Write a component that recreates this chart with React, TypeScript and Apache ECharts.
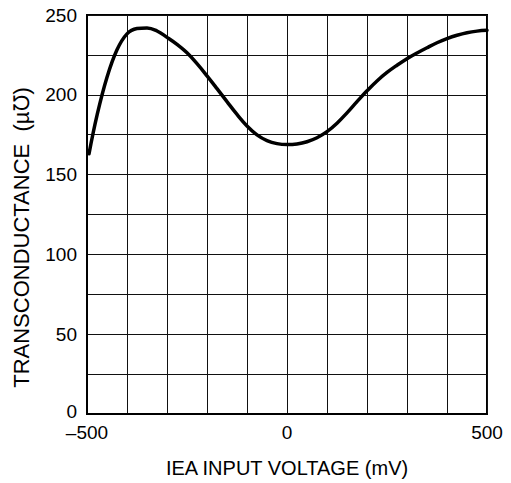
import React, { useEffect, useRef } from "react";
import * as echarts from "echarts";

const voltage = [-495, -475, -450, -425, -400, -375, -350, -325, -300, -275, -250, -225, -200, -175, -150, -125, -100, -75, -50, -25, 0, 25, 50, 75, 100, 125, 150, 175, 200, 225, 250, 275, 300, 325, 350, 375, 400, 425, 450, 475, 500];
const transconductance = [163, 187.1, 211, 228.2, 238.2, 241.5, 241.9, 240.0, 236.0, 231.6, 226.3, 219.5, 211.9, 203.9, 195.7, 187.7, 180.5, 174.9, 171.3, 169.4, 168.8, 169.2, 170.6, 173.1, 176.9, 182.2, 188.7, 195.7, 202.5, 208.7, 214.0, 218.5, 222.6, 226.2, 229.5, 232.6, 235.2, 237.3, 238.9, 239.9, 240.4];
const xTickLabels: Record<number, string> = { [-500]: "\u2013500", 0: "0", 500: "500" };
const yTickLabels = [0, 50, 100, 150, 200, 250];

export default function App() {
  const ref = useRef<HTMLDivElement>(null);
  useEffect(() => {
    if (!ref.current) return;
    const chart = echarts.init(ref.current, undefined, { renderer: "svg" });
    const font = "Liberation Sans, Arial, Helvetica, sans-serif";
    chart.setOption({
      animation: false,
      backgroundColor: "#fff",
      grid: {
        left: 87,
        right: 24,
        top: 15,
        bottom: 68,
        show: true,
        borderColor: "#000",
        borderWidth: 2,
        backgroundColor: "transparent",
      },
      xAxis: {
        type: "value",
        min: -500,
        max: 500,
        interval: 100,
        name: "IEA INPUT VOLTAGE (mV)",
        nameLocation: "middle",
        nameGap: 44,
        nameTextStyle: { color: "#000", fontSize: 20, fontFamily: font },
        axisLine: { show: true, onZero: false, lineStyle: { color: "#000", width: 2 } },
        axisTick: { show: false },
        splitLine: { show: true, lineStyle: { color: "#111", width: 1 } },
        axisLabel: {
          color: "#000",
          fontSize: 19,
          lineHeight: 15,
          fontFamily: font,
          margin: 11,
          formatter: (v: number) => (xTickLabels[v] !== undefined ? xTickLabels[v] : ""),
        },
      },
      yAxis: {
        type: "value",
        min: 0,
        max: 250,
        interval: 25,
        name: "TRANSCONDUCTANCE  (\u00b5\u2127)",
        nameLocation: "middle",
        nameGap: 55,
        nameRotate: 90,
        nameTextStyle: { color: "#000", fontSize: 22, fontFamily: font, padding: [0, 46, 0, 0] },
        axisLine: { show: true, onZero: false, lineStyle: { color: "#000", width: 2 } },
        axisTick: { show: false },
        splitLine: { show: true, lineStyle: { color: "#111", width: 1 } },
        axisLabel: {
          color: "#000",
          fontSize: 19,
          lineHeight: 15,
          fontFamily: font,
          margin: 10,
          formatter: (v: number) => (v === 0 ? "{z|0}" : yTickLabels.includes(v) ? String(v) : ""),
          rich: {
            z: { color: "#000", fontSize: 19, lineHeight: 15, fontFamily: font, padding: [0, 0, 6, 0] },
          },
        },
      },
      series: [
        {
          type: "line",
          data: voltage.map((x, i) => [x, transconductance[i]]),
          smooth: 0.4,
          showSymbol: false,
          lineStyle: { color: "#000", width: 3.5, cap: "round" },
        },
      ],
    });
    return () => chart.dispose();
  }, []);
  return <div ref={ref} style={{ position: "fixed", left: 0, top: 0, width: 511, height: 483 }} />;
}
